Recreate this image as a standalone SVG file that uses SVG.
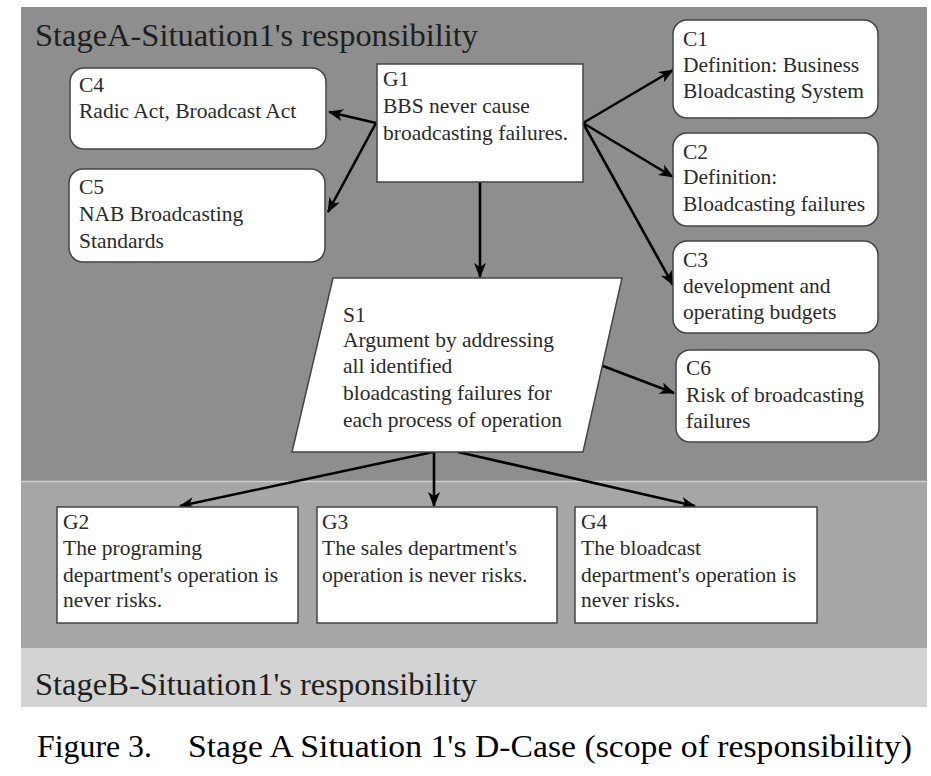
<svg xmlns="http://www.w3.org/2000/svg" width="931" height="776" viewBox="0 0 931 776">
<style>
text{font-family:"Liberation Serif",Tinos,"Times New Roman","DejaVu Serif",serif}
.t{font-size:21.5px;fill:#2a2a2a}
.ctx{fill:#fff;stroke:#444;stroke-width:1.5}
.goal{fill:#fff;stroke:#444;stroke-width:1.5}
.ln{stroke:#000;stroke-width:2.6;fill:none;marker-end:url(#ah)}
.big{font-size:31.5px;fill:#1e1e1e}
</style>
<defs>
<marker id="ah" markerUnits="userSpaceOnUse" markerWidth="15" markerHeight="12" refX="14" refY="6" orient="auto">
<path d="M0,0 L15,6 L0,12 L4,6 z" fill="#000"/>
</marker>
</defs>
<rect width="931" height="776" fill="#fff"/>
<g id="regions">
<rect x="21" y="7" width="906" height="475" fill="#8e8e8e"/>
<rect x="21" y="482" width="906" height="166" fill="#a6a6a6"/>
<line x1="21" y1="481.5" x2="927" y2="481.5" stroke="#d0d0d0" stroke-width="1.6"/>
<rect x="21" y="648" width="906" height="59" fill="#d3d3d3"/>
<text class="big" x="35" y="46" textLength="443" lengthAdjust="spacingAndGlyphs">StageA-Situation1's responsibility</text>
<text class="big" x="35" y="695" textLength="442" lengthAdjust="spacingAndGlyphs">StageB-Situation1's responsibility</text>
</g>
<g id="connectors">
<line class="ln" x1="376" y1="123" x2="329" y2="112"/>
<line class="ln" x1="376" y1="123" x2="328" y2="212"/>
<line class="ln" x1="583" y1="123" x2="673" y2="70"/>
<line class="ln" x1="583" y1="123" x2="673" y2="177"/>
<line class="ln" x1="583" y1="123" x2="673" y2="285"/>
<line class="ln" x1="480" y1="182" x2="480" y2="277"/>
<line class="ln" x1="603" y1="366" x2="674" y2="393"/>
<line class="ln" x1="433" y1="452" x2="180" y2="506"/>
<line class="ln" x1="434" y1="452" x2="434" y2="506"/>
<line class="ln" x1="458" y1="452" x2="695" y2="506"/>
</g>
<g id="C4">
<rect class="ctx" x="70" y="68" width="256" height="81" rx="14"/>
<text class="t" x="79" y="92">C4</text>
<text class="t" x="79" y="118">Radic Act, Broadcast Act</text>
</g>
<g id="C5">
<rect class="ctx" x="69" y="169" width="256" height="93" rx="14"/>
<text class="t" x="79" y="194">C5</text>
<text class="t" x="79" y="221">NAB Broadcasting</text>
<text class="t" x="79" y="248">Standards</text>
</g>
<g id="G1">
<rect class="goal" x="377" y="64" width="206" height="118"/>
<text class="t" x="383" y="86">G1</text>
<text class="t" x="383" y="113">BBS never cause</text>
<text class="t" x="383" y="140">broadcasting failures.</text>
</g>
<g id="C1">
<rect class="ctx" x="673" y="20" width="205" height="98" rx="14"/>
<text class="t" x="683" y="46">C1</text>
<text class="t" x="683" y="72">Definition: Business</text>
<text class="t" x="683" y="98">Bloadcasting System</text>
</g>
<g id="C2">
<rect class="ctx" x="673" y="133" width="205" height="93" rx="14"/>
<text class="t" x="683" y="159">C2</text>
<text class="t" x="683" y="184">Definition:</text>
<text class="t" x="683" y="211">Bloadcasting failures</text>
</g>
<g id="C3">
<rect class="ctx" x="673" y="241" width="205" height="92" rx="14"/>
<text class="t" x="683" y="267">C3</text>
<text class="t" x="683" y="293">development and</text>
<text class="t" x="683" y="319">operating budgets</text>
</g>
<g id="C6">
<rect class="ctx" x="676" y="350" width="203" height="92" rx="14"/>
<text class="t" x="686" y="375">C6</text>
<text class="t" x="686" y="402">Risk of broadcasting</text>
<text class="t" x="686" y="428">failures</text>
</g>
<g id="S1">
<polygon class="goal" points="333,278 622,278 583,452 292,452"/>
<text class="t" x="343" y="322">S1</text>
<text class="t" x="343" y="347">Argument by addressing</text>
<text class="t" x="343" y="373">all identified</text>
<text class="t" x="343" y="400">bloadcasting failures for</text>
<text class="t" x="343" y="427">each process of operation</text>
</g>
<g id="G2">
<rect class="goal" x="57" y="507" width="241" height="116"/>
<text class="t" x="63" y="529">G2</text>
<text class="t" x="63" y="555">The programing</text>
<text class="t" x="63" y="582">department's operation is</text>
<text class="t" x="63" y="607">never risks.</text>
</g>
<g id="G3">
<rect class="goal" x="317" y="507" width="240" height="116"/>
<text class="t" x="322" y="529">G3</text>
<text class="t" x="322" y="555">The sales department's</text>
<text class="t" x="322" y="582">operation is never risks.</text>
</g>
<g id="G4">
<rect class="goal" x="575" y="507" width="242" height="116"/>
<text class="t" x="581" y="529">G4</text>
<text class="t" x="581" y="555">The bloadcast</text>
<text class="t" x="581" y="582">department's operation is</text>
<text class="t" x="581" y="607">never risks.</text>
</g>
<g id="caption">
<text style="font-size:32px;fill:#000" y="757"><tspan x="37" textLength="115" lengthAdjust="spacingAndGlyphs">Figure 3.</tspan><tspan x="188" textLength="724" lengthAdjust="spacingAndGlyphs">Stage A Situation 1's D-Case (scope of responsibility)</tspan></text>
</g>
</svg>
